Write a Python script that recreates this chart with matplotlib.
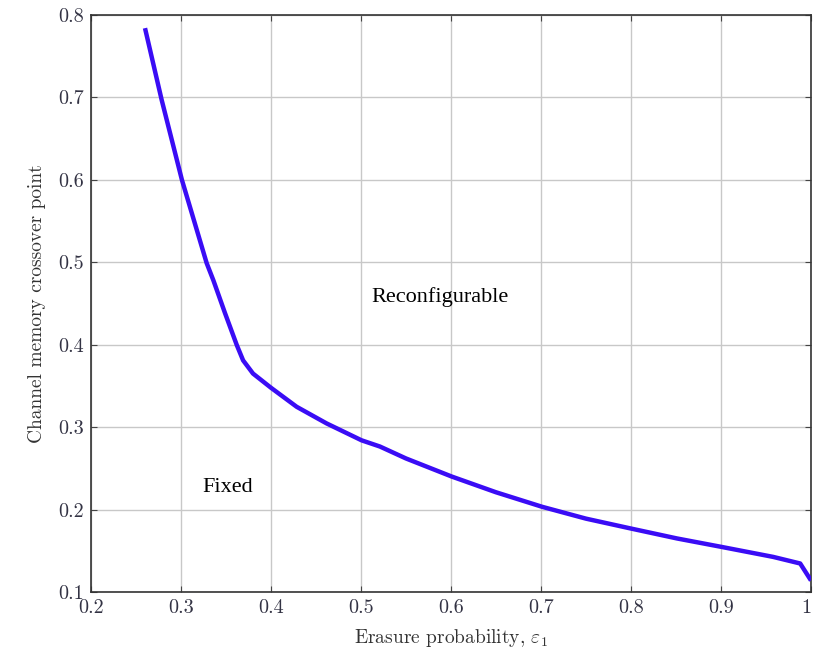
import numpy as np
import matplotlib
matplotlib.use("Agg")
import matplotlib.pyplot as plt

# values
erasure = [0.260, 0.2785, 0.301, 0.3285, 0.336, 0.349, 0.362, 0.369, 0.380, 0.3997,
           0.4285, 0.4618, 0.5007, 0.521, 0.55, 0.601, 0.65, 0.7015, 0.75, 0.80,
           0.851, 0.9007, 0.958, 0.988, 1.0]
crossover = [0.784, 0.697, 0.600, 0.499, 0.478, 0.438, 0.3995, 0.381, 0.365, 0.348,
             0.3247, 0.3045, 0.284, 0.2765, 0.262, 0.240, 0.221, 0.2033, 0.189, 0.177,
             0.165, 0.1547, 0.1426, 0.1346, 0.114]

x_ticks = [0.2, 0.3, 0.4, 0.5, 0.6, 0.7, 0.8, 0.9, 1.0]
x_tick_labels = ["0.2", "0.3", "0.4", "0.5", "0.6", "0.7", "0.8", "0.9", "1"]
y_ticks = [0.1, 0.2, 0.3, 0.4, 0.5, 0.6, 0.7, 0.8]
y_tick_labels = ["0.1", "0.2", "0.3", "0.4", "0.5", "0.6", "0.7", "0.8"]

plt.rcParams["mathtext.fontset"] = "cm"
plt.rcParams["font.family"] = ["cmr10", "DejaVu Serif"]
plt.rcParams["axes.unicode_minus"] = False

fig = plt.figure(figsize=(8.14, 6.5), dpi=100)
ax = fig.add_axes([0.1118, 0.0892, 0.8845, 0.8878])

ax.plot(erasure, crossover, color="#3a0cf5", lw=3.2, solid_capstyle="butt",
        solid_joinstyle="round", zorder=3)

ax.set_xlim(0.2, 1.0)
ax.set_ylim(0.1, 0.8)
ax.set_xticks(x_ticks)
ax.set_xticklabels(x_tick_labels)
ax.set_yticks(y_ticks)
ax.set_yticklabels(y_tick_labels)
ax.grid(True, color="#c8c8c8", lw=1.0)
ax.set_axisbelow(True)

ax.tick_params(direction="in", length=4, width=0.8, colors="#444444",
               labelcolor="#333344", labelsize=14.5, top=True, right=True, pad=5)
# last x label sits on the figure edge, keep it inside
ax.get_xticklabels()[-1].set_horizontalalignment("right")
for s in ax.spines.values():
    s.set_color("#333333")
    s.set_linewidth(1.2)

ax.set_xlabel(r"Erasure probability, $\varepsilon_1$", fontsize=14, color="#333333", labelpad=7)
ax.set_ylabel("Channel memory crossover point", fontsize=14, color="#333333", labelpad=9)

ax.text(0.588, 0.458, "Reconfigurable", family="Liberation Serif", fontsize=16,
        ha="center", va="center")
ax.text(0.352, 0.227, "Fixed", family="Liberation Serif", fontsize=16,
        ha="center", va="center")

fig.savefig("out.png", dpi=100)
